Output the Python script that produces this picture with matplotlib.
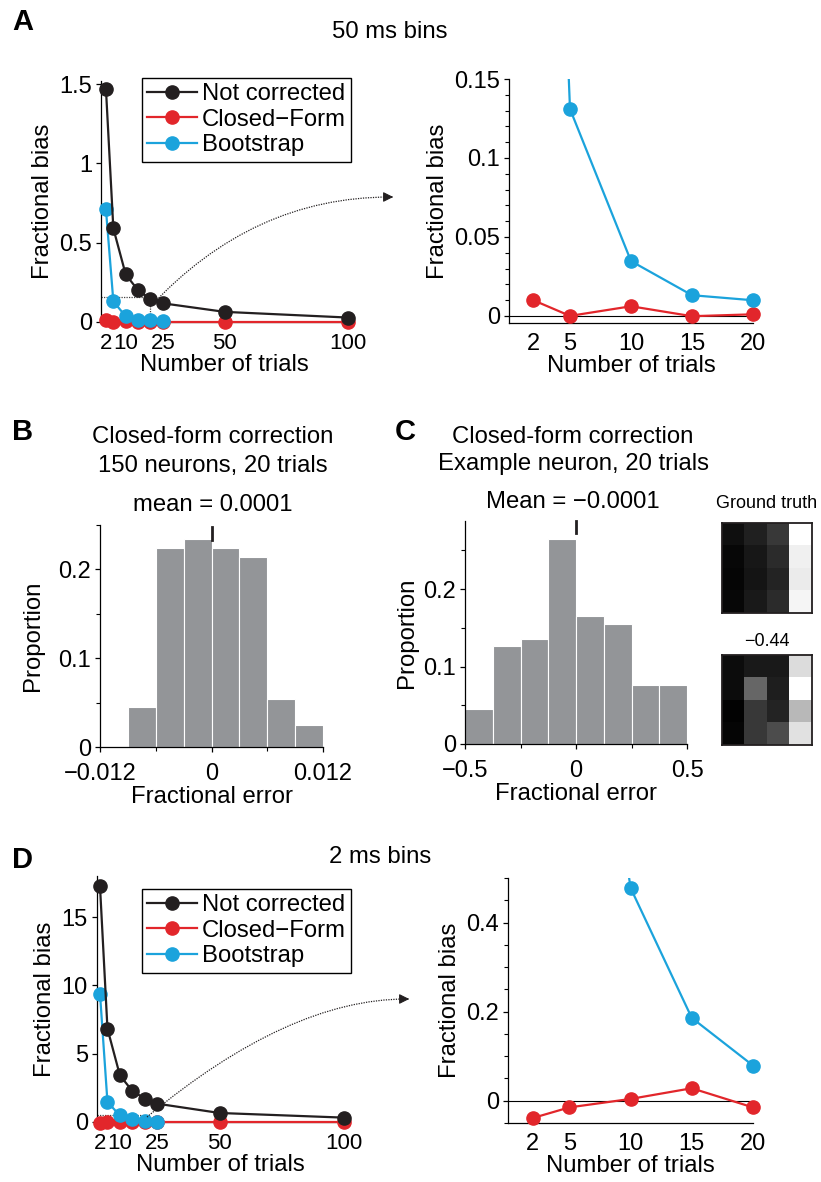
import numpy as np
import matplotlib
matplotlib.use("Agg")
import matplotlib.pyplot as plt
from matplotlib.path import Path
from matplotlib.patches import PathPatch, FancyArrowPatch
from matplotlib.lines import Line2D

plt.rcParams['font.family'] = ['Liberation Sans', 'DejaVu Sans']
plt.rcParams['axes.unicode_minus'] = True

# ---------------- data ----------------
trials = [2, 5, 10, 15, 20, 25, 50, 100]
trials_boot = [2, 5, 10, 15, 20, 25]

a_not = [1.47, 0.59, 0.30, 0.20, 0.146, 0.118, 0.064, 0.028]
a_boot = [0.71, 0.131, 0.0347, 0.0131, 0.0099, 0.005]
a_cf = [0.0099, 0.0, 0.0061, -0.0002, 0.001, 0.0, 0.0, 0.0]

d_not = [17.27, 6.83, 3.41, 2.27, 1.71, 1.34, 0.66, 0.32]
d_boot = [9.39, 1.46, 0.478, 0.186, 0.079, 0.03]
d_cf = [-0.039, -0.015, 0.004, 0.028, -0.015, 0.0, 0.0, 0.0]

b_edges = [-0.009, -0.006, -0.003, 0.0, 0.003, 0.006, 0.009, 0.012]
b_props = [0.045, 0.224, 0.234, 0.224, 0.214, 0.054, 0.025]
b_mean = 0.0001

c_edges = [-0.5, -0.375, -0.25, -0.125, 0.0, 0.125, 0.25, 0.375, 0.5]
c_props = [0.0455, 0.126, 0.1355, 0.265, 0.165, 0.155, 0.0758, 0.0758]
c_mean = -0.0001

gt_img = [[0.06, 0.13, 0.22, 1.00],
          [0.03, 0.09, 0.17, 0.94],
          [0.02, 0.08, 0.14, 0.92],
          [0.03, 0.10, 0.17, 0.96]]
est_img = [[0.05, 0.10, 0.10, 0.86],
           [0.05, 0.40, 0.12, 1.00],
           [0.01, 0.22, 0.14, 0.72],
           [0.02, 0.22, 0.30, 0.88]]

series_names = ['Not corrected', 'Closed\u2212Form', 'Bootstrap']

# ---------------- style ----------------
W, H = 821, 1182
BLACK = '#231f20'
RED = '#e2262b'
BLUE = '#1ba3dc'
GRAY = '#939598'
FS = 17.2
TFS = 17
MS = 9.5
LW = 1.6

fig = plt.figure(figsize=(W / 100, H / 100), dpi=100)


def add_ax(l, t, r, b):
    return fig.add_axes([l / W, 1 - b / H, (r - l) / W, (b - t) / H])


def fxy(x, y):
    return (x / W, 1 - y / H)


def style(ax):
    for s in ['top', 'right']:
        ax.spines[s].set_visible(False)
    for s in ['left', 'bottom']:
        ax.spines[s].set_linewidth(0.9)
        ax.spines[s].set_color('black')
    ax.tick_params(direction='out', length=3.5, width=0.9, labelsize=TFS,
                   colors='black', pad=3)
    ax.tick_params(which='minor', direction='out', length=3, width=0.8)
    ax.set_facecolor('none')


def line_panel(ax, nc, cf, bs, xlim, ylim, yticks, ylabels, xticks):
    style(ax)
    ax.plot(trials, cf, '-o', color=RED, lw=LW, ms=MS, clip_on=False, zorder=3)
    ax.plot(trials_boot, bs, '-o', color=BLUE, lw=LW, ms=MS, clip_on=False, zorder=4)
    ax.plot(trials, nc, '-o', color=BLACK, lw=LW, ms=MS, clip_on=False, zorder=5)
    ax.set_xlim(*xlim)
    ax.set_ylim(*ylim)
    ax.set_yticks(yticks)
    ax.set_yticklabels(ylabels)
    ax.set_xticks(xticks)
    ax.set_xticklabels([str(t) for t in xticks])
    ax.tick_params(axis='x', length=0, pad=8, labelsize=16)
    ax.set_xlabel('Number of trials', fontsize=FS, labelpad=0)
    ax.set_ylabel('Fractional bias', fontsize=FS, labelpad=4)
    handles = [Line2D([], [], color=c, marker='o', lw=LW, ms=MS)
               for c in (BLACK, RED, BLUE)]
    return handles


def inset_panel(ax, cf, bs, ylim, yticks, ylabels, yminor):
    style(ax)
    sub = [i for i, t in enumerate(trials) if t <= 20]
    subb = [i for i, t in enumerate(trials_boot) if t <= 20]
    ax.axhline(0, color='black', lw=0.8, zorder=1)
    tx = [trials[i] for i in sub]
    ax.plot(tx, [cf[i] for i in sub], '-', color=RED, lw=LW, zorder=3)
    ax.plot([trials_boot[i] for i in subb], [bs[i] for i in subb], '-',
            color=BLUE, lw=LW, zorder=4)
    ax.set_xlim(0, 20)
    ax.set_ylim(*ylim)
    vis_c = [(trials[i], cf[i]) for i in sub if ylim[0] <= cf[i] <= ylim[1]]
    vis_b = [(trials_boot[i], bs[i]) for i in subb if ylim[0] <= bs[i] <= ylim[1]]
    ax.plot([p[0] for p in vis_c], [p[1] for p in vis_c], 'o', color=RED, ms=MS,
            clip_on=False, zorder=5)
    ax.plot([p[0] for p in vis_b], [p[1] for p in vis_b], 'o', color=BLUE, ms=MS,
            clip_on=False, zorder=5)
    ax.set_yticks(yticks)
    ax.set_yticklabels(ylabels)
    ax.set_yticks(yminor, minor=True)
    ax.set_xticks([2, 5, 10, 15, 20])
    ax.tick_params(axis='x', length=0, pad=7)
    ax.set_xlabel('Number of trials', fontsize=FS, labelpad=0)
    ax.set_ylabel('Fractional bias', fontsize=FS, labelpad=4)


def connector(p0, p1, p2, tip):
    pts = [fxy(*p0), fxy(*p1), fxy(*p2)]
    path = Path(pts, [Path.MOVETO, Path.CURVE3, Path.CURVE3])
    fig.patches.append(PathPatch(path, transform=fig.transFigure, fill=False,
                                 lw=0.9, ls=(0, (1, 1.0)), color=BLACK))
    arr = FancyArrowPatch(fxy(p2[0] - 2, p2[1]), fxy(*tip), transform=fig.transFigure,
                          arrowstyle='-|>,head_length=6,head_width=3',
                          color=BLACK, lw=0.8, mutation_scale=1)
    fig.patches.append(arr)


def legend(ax, handles, anchor):
    lg = ax.legend(handles, series_names, loc='upper left', bbox_to_anchor=fxy(*anchor),
                   bbox_transform=fig.transFigure, fontsize=FS, frameon=True,
                   fancybox=False, edgecolor='black', framealpha=1, handlelength=2.1,
                   handletextpad=0.2, labelspacing=0.15, borderpad=0.22,
                   borderaxespad=0)
    lg.get_frame().set_linewidth(1.0)


# ---------------- panel A ----------------
axA = add_ax(101, 81, 348, 322)
hA = line_panel(axA, a_not, a_cf, a_boot, (0, 100), (0, 1.52),
                [0, 0.5, 1, 1.5], ['0', '0.5', '1', '1.5'], [2, 10, 25, 50, 100])
axA.plot([0, 20, 20], [0.155, 0.155, 0], ls=(0, (1, 1.0)), color='#444444',
         lw=0.9, zorder=2, clip_on=False)
legend(axA, hA, (142, 78))

axA2 = add_ax(509, 79, 753, 323)
inset_panel(axA2, a_cf, a_boot, (-0.0045, 0.15), [0, 0.05, 0.1, 0.15],
            ['0', '0.05', '0.1', '0.15'], np.arange(0, 0.151, 0.01))

connector((150, 307), (252, 197), (390, 197), (396, 197))

# ---------------- panel B ----------------
axB = add_ax(100, 525, 323, 747)
style(axB)
bw = np.diff(b_edges)
axB.bar(b_edges[:-1], b_props, width=bw, align='edge', color=GRAY,
        edgecolor='white', lw=0.8)
axB.set_xlim(-0.012, 0.012)
axB.set_ylim(0, 0.25)
axB.set_xticks([-0.012, 0, 0.012])
axB.set_xticklabels(['\u22120.012', '0', '0.012'])
axB.set_xticks([-0.006, 0.006], minor=True)
axB.set_yticks([0, 0.1, 0.2])
axB.set_yticklabels(['0', '0.1', '0.2'])
axB.set_yticks([0.05, 0.15, 0.25], minor=True)
axB.tick_params(axis='x', pad=8)
axB.set_xlabel('Fractional error', fontsize=FS, labelpad=1)
axB.set_ylabel('Proportion', fontsize=FS, labelpad=10)
axB.plot([b_mean, b_mean], [0.233, 0.248], color=BLACK, lw=2, clip_on=False)

# ---------------- panel C ----------------
axC = add_ax(465, 521, 687, 744)
style(axC)
cw = np.diff(c_edges)
axC.bar(c_edges[:-1], c_props, width=cw, align='edge', color=GRAY,
        edgecolor='white', lw=0.8)
axC.set_xlim(-0.5, 0.5)
axC.set_ylim(0, 0.288)
axC.set_xticks([-0.5, 0, 0.5])
axC.set_xticklabels(['\u22120.5', '0', '0.5'])
axC.set_xticks([-0.25, 0.25], minor=True)
axC.set_yticks([0, 0.1, 0.2])
axC.set_yticklabels(['0', '0.1', '0.2'])
axC.set_yticks([0.05, 0.15, 0.25], minor=True)
axC.tick_params(axis='x', pad=8)
axC.set_xlabel('Fractional error', fontsize=FS, labelpad=1)
axC.set_ylabel('Proportion', fontsize=FS, labelpad=4)
axC.plot([c_mean, c_mean], [0.272, 0.288], color=BLACK, lw=2, clip_on=False)

for img, (t, b) in ((gt_img, (523, 613)), (est_img, (655, 745))):
    axi = add_ax(722, t, 812, b)
    axi.imshow(np.array(img), cmap='gray', vmin=0, vmax=1,
               interpolation='nearest', aspect='auto')
    axi.set_xticks([])
    axi.set_yticks([])
    for s in axi.spines.values():
        s.set_linewidth(1.3)
        s.set_color(BLACK)

# ---------------- panel D ----------------
axD = add_ax(97, 876, 344, 1122)
hD = line_panel(axD, d_not, d_cf, d_boot, (0.8, 100), (0, 18),
                [0, 5, 10, 15], ['0', '5', '10', '15'], [2, 10, 25, 50, 100])
axD.plot([0.8, 20, 20], [0.5, 0.5, 0], ls=(0, (1, 1.0)), color='#444444',
         lw=0.9, zorder=2, clip_on=False)
legend(axD, hD, (142, 889))

axD2 = add_ax(508, 878, 753, 1123)
inset_panel(axD2, d_cf, d_boot, (-0.05, 0.5), [0, 0.2, 0.4],
            ['0', '0.2', '0.4'], np.arange(-0.05, 0.501, 0.05))

connector((147, 1117), (289, 999), (406, 999), (412, 999))

# ---------------- texts ----------------
def ftext(x, y, s, **kw):
    fig.text(x / W, 1 - y / H, s, **kw)

ftext(12, 22, 'A', fontsize=21, fontweight='bold', va='center', ha='left')
ftext(12, 432, 'B', fontsize=21, fontweight='bold', va='center', ha='left')
ftext(395, 432, 'C', fontsize=21, fontweight='bold', va='center', ha='left')
ftext(12, 860, 'D', fontsize=21, fontweight='bold', va='center', ha='left')

ftext(390, 32, '50 ms bins', fontsize=FS, ha='center', va='center')
ftext(380, 857, '2 ms bins', fontsize=FS, ha='center', va='center')

ftext(213, 437, 'Closed-form correction', fontsize=FS, ha='center', va='center')
ftext(213, 466, '150 neurons, 20 trials', fontsize=FS, ha='center', va='center')
ftext(213, 505, 'mean = 0.0001', fontsize=FS, ha='center', va='center')

ftext(573, 437, 'Closed-form correction', fontsize=FS, ha='center', va='center')
ftext(573, 464, 'Example neuron, 20 trials', fontsize=FS, ha='center', va='center')
ftext(573, 502, 'Mean = \u22120.0001', fontsize=FS, ha='center', va='center')

ftext(767, 503, 'Ground truth', fontsize=13, ha='center', va='center')
ftext(767, 641, '\u22120.44', fontsize=13, ha='center', va='center')

fig.savefig('out.png', dpi=100)
